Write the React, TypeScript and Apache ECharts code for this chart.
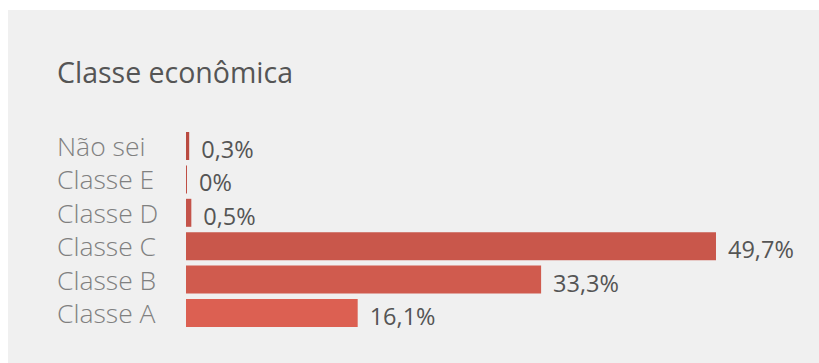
import React, { useEffect, useRef } from "react";
import * as echarts from "echarts";

const categories = ["Não sei", "Classe E", "Classe D", "Classe C", "Classe B", "Classe A"];
const values = [0.3, 0, 0.5, 49.7, 33.3, 16.1];
const barColors = ["#b94a40", "#bf4f45", "#c4534a", "#c9574b", "#d05b4e", "#dc6052"];
const titleText = "Classe econômica";

export default function App() {
  const ref = useRef<HTMLDivElement>(null);
  useEffect(() => {
    document.body.style.overflow = "hidden";
    document.documentElement.style.overflow = "hidden";
    const chart = echarts.init(ref.current!, null, { renderer: "svg", width: 840, height: 353 });
    chart.setOption({
      animation: false,
      backgroundColor: "#f0f0f0",
      title: {
        text: titleText,
        left: 49,
        top: 47,
        padding: 0,
        textStyle: { fontFamily: "Open Sans", fontWeight: 400, fontSize: 28.5, color: "#555555" },
      },
      grid: { left: 178, width: 618.5, top: 119.3, bottom: 33.3, containLabel: false },
      xAxis: {
        type: "value",
        min: 0,
        max: 58,
        show: false,
      },
      yAxis: {
        type: "category",
        data: categories,
        inverse: true,
        axisLine: { show: false },
        axisTick: { show: false },
        splitLine: { show: false },
        axisLabel: {
          interval: 0,
          align: "left",
          margin: 129,
          fontFamily: "Open Sans",
          fontWeight: 300,
          fontSize: 26.5,
          color: "#808080",
          padding: [0, 0, 12, 0],
          lineHeight: 26,
        },
      },
      series: [
        {
          type: "bar",
          data: values.map((v, i) => ({ value: v, itemStyle: { color: barColors[i] } })),
          barWidth: 28,
          barMinHeight: 1,
          label: {
            show: true,
            position: "right",
            distance: 12,
            fontFamily: "Open Sans",
            fontWeight: 400,
            fontSize: 23.5,
            color: "#555555",
            offset: [0, 3],
            formatter: (p: any) => String(p.value).replace(".", ",") + "%",
          },
        },
      ],
    });
    return () => chart.dispose();
  }, []);
  return (
    <div
      ref={ref}
      style={{
        width: 840,
        height: 353,
        position: "absolute",
        left: 8,
        top: 10,
        background: "#f0f0f0",
      }}
    />
  );
}
